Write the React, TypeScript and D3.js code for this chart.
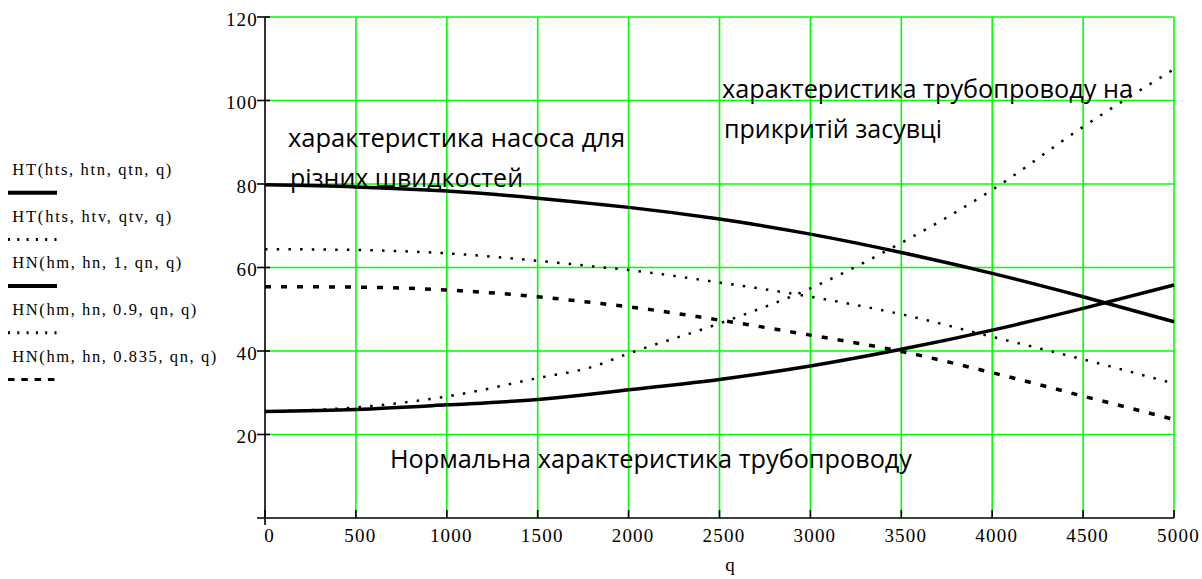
import React from "react";
import * as d3 from "d3";

// Flow rate q, m3/h
const qValues = [0, 500, 1000, 1500, 1800, 2000, 2500, 3000, 3500, 4000, 4500, 5000];

// Pipeline characteristic, normal valve opening
const pipeNormal = [25.5, 26.0, 27.1, 28.4, 29.7, 30.7, 33.2, 36.4, 40.4, 45.0, 50.2, 55.8];
// Pipeline characteristic, throttled valve
const pipeValve = [25.5, 26.5, 29.1, 33.5, 36.2, 39.4, 46.6, 55.0, 65.9, 78.6, 93.7, 107.5];
// Pump head at relative speeds 1, 0.9, 0.835
const pumpFull = [79.8, 79.3, 78.3, 76.6, 75.3, 74.4, 71.6, 68.0, 63.6, 58.6, 53.0, 47.0];
const pump090 = [64.4, 64.2, 63.4, 61.6, 60.3, 59.4, 56.4, 53.0, 48.8, 43.4, 38.0, 32.2];
const pump0835 = [55.4, 55.3, 54.6, 53.0, 51.6, 50.6, 47.4, 43.8, 39.9, 34.8, 29.2, 23.6];

const xTicks = [0, 500, 1000, 1500, 2000, 2500, 3000, 3500, 4000, 4500, 5000];
const yTicks = [20, 40, 60, 80, 100, 120];

const legendLabels = [
  "HT(hts, htn, qtn, q)",
  "HT(hts, htv, qtv, q)",
  "HN(hm, hn, 1, qn, q)",
  "HN(hm, hn, 0.9, qn, q)",
  "HN(hm, hn, 0.835, qn, q)",
];

type Style = { dash?: string; width: number; legendDash?: string };
const SOLID: Style = { width: 3.5 };
const DOTTED: Style = { dash: "2.5 9.2", width: 2.5, legendDash: "2 7.3" };
const DASHED: Style = { dash: "6 10", width: 3.5, legendDash: "6.5 6.8" };

const series = [
  { values: pipeNormal, style: SOLID },
  { values: pipeValve, style: DOTTED },
  { values: pumpFull, style: SOLID },
  { values: pump090, style: DOTTED },
  { values: pump0835, style: DASHED },
];

const legendWidths = [159, 159, 169, 184, 204];

export default function App() {
  const x = d3.scaleLinear().domain([0, 5000]).range([265, 1174]);
  const y = d3.scaleLinear().domain([0, 120]).range([518, 17]);

  const line = d3
    .line<number>()
    .x((_, i) => x(qValues[i]))
    .y((d) => y(d))
    .curve(d3.curveMonotoneX);

  const serif = "'Liberation Serif', 'Times New Roman', serif";
  const sans = "'Open Sans', 'Noto Sans', sans-serif";
  const green = "#00ff00";

  return (
    <svg
      width={1202}
      height={579}
      style={{ position: "absolute", left: 0, top: 0, background: "#fff" }}
    >
      {/* grid */}
      {xTicks.filter((t) => t > 0).map((t) => (
        <line key={"gx" + t} x1={x(t)} x2={x(t)} y1={y(120)} y2={y(0)} stroke={green} strokeWidth={1.6} />
      ))}
      {yTicks.map((t) => (
        <line key={"gy" + t} x1={x(0)} x2={x(5000)} y1={y(t)} y2={y(t)} stroke={green} strokeWidth={1.6} />
      ))}

      {/* axes */}
      <line x1={x(0)} x2={x(0)} y1={y(120)} y2={y(0) + 7} stroke="#000" strokeWidth={1.6} />
      <line x1={x(0) - 8} x2={x(5000)} y1={y(0)} y2={y(0)} stroke="#000" strokeWidth={1.6} />
      {yTicks.map((t) => (
        <line key={"ty" + t} x1={x(0) - 8} x2={x(0) + 5} y1={y(t)} y2={y(t)} stroke="#000" strokeWidth={1.6} />
      ))}
      {xTicks.map((t) => (
        <line key={"tx" + t} x1={x(t)} x2={x(t)} y1={y(0) - 8} y2={y(0)} stroke="#000" strokeWidth={1.6} />
      ))}

      {/* tick labels */}
      {yTicks.map((t) => (
        <text
          key={"ly" + t}
          x={x(0) - 7}
          y={y(t) + 8.5}
          textAnchor="end"
          fontFamily={serif}
          fontSize={19}
          letterSpacing={1.2}
        >
          {t}
        </text>
      ))}
      {xTicks.map((t) => (
        <text
          key={"lx" + t}
          x={x(t) + 4.5}
          y={541.5}
          textAnchor="middle"
          fontFamily={serif}
          fontSize={19}
          letterSpacing={1.2}
        >
          {t}
        </text>
      ))}
      <text x={730} y={571} textAnchor="middle" fontFamily={serif} fontSize={19}>
        q
      </text>

      {/* curves */}
      {series.map((s, i) => (
        <path
          key={"s" + i}
          d={line(s.values) || ""}
          fill="none"
          stroke="#000"
          strokeWidth={s.style.width}
          strokeDasharray={s.style.dash}
        />
      ))}

      {/* legend */}
      {legendLabels.map((lab, i) => {
        const base = 175 + i * 46.7;
        const st = series[i].style;
        return (
          <g key={"lg" + i}>
            <text
              x={12.3}
              y={base}
              fontFamily={serif}
              fontSize={16.5}
              textLength={legendWidths[i]}
              lengthAdjust="spacing"
            >
              {lab}
            </text>
            <line
              x1={8}
              x2={57}
              y1={base + 17.7}
              y2={base + 17.7}
              stroke="#000"
              strokeWidth={st.dash ? 3 : 4}
              strokeDasharray={st.legendDash}
            />
          </g>
        );
      })}

      {/* annotations */}
      <g fontFamily={sans} fontSize={25} fill="#000">
        <text x={288} y={146.7} textLength={337} lengthAdjust="spacingAndGlyphs">
          характеристика насоса для
        </text>
        <text x={290} y={186.7} textLength={233} lengthAdjust="spacingAndGlyphs">
          різних швидкостей
        </text>
        <text x={722} y={98.3} textLength={411} lengthAdjust="spacingAndGlyphs">
          характеристика трубопроводу на
        </text>
        <text x={724} y={138.3} textLength={218} lengthAdjust="spacingAndGlyphs">
          прикритій засувці
        </text>
        <text x={390} y={468.3} textLength={522} lengthAdjust="spacingAndGlyphs">
          Нормальна характеристика трубопроводу
        </text>
      </g>
    </svg>
  );
}
